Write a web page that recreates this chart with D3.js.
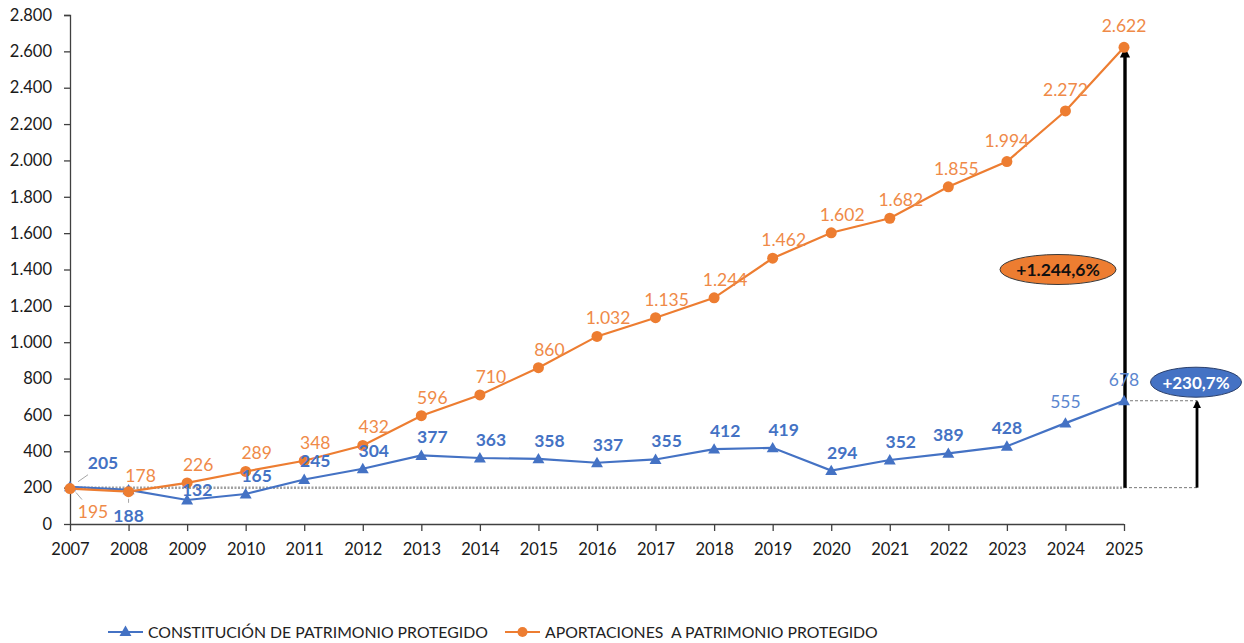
<!DOCTYPE html>
<html><head><meta charset="utf-8">
<script src="https://cdn.jsdelivr.net/npm/d3@7"></script>
<style>body{margin:0;background:#fff}svg{display:block;font-family:Lato,"Open Sans",sans-serif}</style>
</head><body><svg id="c" width="1244" height="643"></svg>
<script>
const years = [2007,2008,2009,2010,2011,2012,2013,2014,2015,2016,2017,2018,2019,2020,2021,2022,2023,2024,2025];
const constitucion = [205,188,132,165,245,304,377,363,358,337,355,412,419,294,352,389,428,555,678];
const aportaciones = [195,178,226,289,348,432,596,710,860,1032,1135,1244,1462,1602,1682,1855,1994,2272,2622];
const yTicks = [0,200,400,600,800,1000,1200,1400,1600,1800,2000,2200,2400,2600,2800];
const seriesNames = ["CONSTITUCIÓN DE PATRIMONIO PROTEGIDO","APORTACIONES  A PATRIMONIO PROTEGIDO"];
const growthLabels = ["+1.244,6%","+230,7%"];
const baseValue = 200;

const BLUE="#4472C4", ORANGE="#ED7D31";
const svg=d3.select("#c");
const x=d3.scaleLinear().domain([2007,2025]).range([70,1124]);
const y=d3.scaleLinear().domain([0,2800]).range([524,15]);
const fmt=v=>d3.format(",")(v).replace(/,/g,".");

// axes
const ya=svg.append("g").attr("transform","translate(70,0)")
  .call(d3.axisLeft(y).tickValues(yTicks).tickFormat(fmt).tickSize(6).tickPadding(12));
const xa=svg.append("g").attr("transform","translate(0,524)")
  .call(d3.axisBottom(x).tickValues(years).tickFormat(d=>d).tickSize(7).tickPadding(12));
[ya,xa].forEach(a=>{a.select(".domain").attr("stroke","#404040").attr("stroke-width",1.3);
  a.selectAll(".tick line").attr("stroke","#404040").attr("stroke-width",1.3);
  a.selectAll("text").attr("font-size",16.5).attr("fill","#1a1a1a").attr("font-family","Lato");});
xa.select(".domain").attr("d","M70,0.5H1124");
ya.select(".domain").attr("d","M-6,15.5H0.5V524");

// reference dotted line at base value
svg.append("line").attr("x1",x(2007)).attr("x2",x(2025)).attr("y1",y(baseValue)).attr("y2",y(baseValue))
  .attr("stroke","#A0A0A0").attr("stroke-width",2.5).attr("stroke-dasharray","2,1.5");
svg.append("line").attr("x1",x(2025)).attr("x2",x(2025)+73).attr("y1",y(baseValue)).attr("y2",y(baseValue))
  .attr("stroke","#555").attr("stroke-width",0.8).attr("stroke-dasharray","3,2");
svg.append("line").attr("x1",x(2025)+6).attr("x2",x(2025)+73).attr("y1",y(constitucion[18])).attr("y2",y(constitucion[18]))
  .attr("stroke","#555").attr("stroke-width",0.8).attr("stroke-dasharray","3,2");

// arrows
const defs=svg.append("defs");
defs.append("marker").attr("id","ah").attr("viewBox","0 0 10 10").attr("refX",8).attr("refY",5)
  .attr("markerWidth",3).attr("markerHeight",3.4).attr("markerUnits","strokeWidth").attr("orient","auto")
  .append("path").attr("d","M0,0L10,5L0,10Z").attr("fill","#000");
svg.append("line").attr("x1",x(2025)+1).attr("x2",x(2025)+1).attr("y1",y(baseValue)).attr("y2",y(aportaciones[18])+2)
  .attr("stroke","#000").attr("stroke-width",3.4).attr("marker-end","url(#ah)");
svg.append("line").attr("x1",x(2025)+73).attr("x2",x(2025)+73).attr("y1",y(baseValue)).attr("y2",y(constitucion[18])+1)
  .attr("stroke","#000").attr("stroke-width",2.8).attr("marker-end","url(#ah)");

// lines
const line=d3.line().x((d,i)=>x(years[i])).y(d=>y(d));
svg.append("path").datum(constitucion).attr("d",line).attr("fill","none").attr("stroke",BLUE).attr("stroke-width",2.2);
svg.append("path").datum(aportaciones).attr("d",line).attr("fill","none").attr("stroke",ORANGE).attr("stroke-width",2.2);

// markers
const tri=d3.symbol().type(d3.symbolTriangle).size(62);
svg.append("g").selectAll("path").data(constitucion).join("path")
  .attr("d",tri).attr("fill",BLUE).attr("transform",(d,i)=>`translate(${x(years[i])},${y(d)+1})`);
svg.append("g").selectAll("circle").data(aportaciones).join("circle")
  .attr("cx",(d,i)=>x(years[i])).attr("cy",d=>y(d)).attr("r",5.5).attr("fill",ORANGE);

// data labels
function off(series,i){
  let dx = i>=15 ? 0 : 11, dy=-12;
  if(series==="o"){ if(i===15) dx=8; if(i>=16) dy=-15; if(i===0){dx=23;dy=29;} if(i===1){dx=12;dy=-10;} }
  else { if(i>=17) dy=-15; if(i===0){dx=33;dy=-18;} if(i===1){dx=0;dy=32;} if(i===2){dx=10;dy=-4;} }
  return [dx,dy];
}
svg.append("g").selectAll("text").data(constitucion).join("text")
  .attr("x",(d,i)=>x(years[i])+off("b",i)[0]).attr("y",(d,i)=>y(d)+off("b",i)[1])
  .attr("text-anchor","middle").attr("font-size",17.5)
  .attr("font-weight",(d,i)=>i>=17?400:700).attr("fill",(d,i)=>i>=17?"#5B86CF":BLUE).text(fmt);
svg.append("g").selectAll("text").data(aportaciones).join("text")
  .attr("x",(d,i)=>x(years[i])+off("o",i)[0]).attr("y",(d,i)=>y(d)+off("o",i)[1])
  .attr("text-anchor","middle").attr("font-size",17.5).attr("fill","#EF8A48").text(fmt);
// leader lines
svg.append("line").attr("x1",x(2007)+8).attr("y1",y(constitucion[0])-5).attr("x2",x(2007)+18).attr("y2",y(constitucion[0])-12)
  .attr("stroke","#A6A6A6").attr("stroke-width",1);
svg.append("line").attr("x1",x(2007)+6).attr("y1",y(aportaciones[0])+4).attr("x2",x(2007)+12).attr("y2",y(aportaciones[0])+11)
  .attr("stroke","#A6A6A6").attr("stroke-width",1);
svg.append("line").attr("x1",x(2008)).attr("y1",y(constitucion[1])+9).attr("x2",x(2008)).attr("y2",y(constitucion[1])+13)
  .attr("stroke","#A6A6A6").attr("stroke-width",1);

// growth ellipses
const ex1=x(2025)-66, ey1=y(1400);
svg.append("ellipse").attr("cx",ex1).attr("cy",ey1).attr("rx",58).attr("ry",15).attr("fill",ORANGE).attr("stroke","#3a3a3a").attr("stroke-width",1);
svg.append("text").attr("x",ex1).attr("y",ey1+6.5).attr("text-anchor","middle").attr("font-size",17.5).attr("font-weight",700).attr("fill","#111").text(growthLabels[0]);
const ex2=x(2025)+72, ey2=y(780);
svg.append("ellipse").attr("cx",ex2).attr("cy",ey2).attr("rx",45.5).attr("ry",15).attr("fill",BLUE).attr("stroke","#2a3f6b").attr("stroke-width",1);
svg.append("text").attr("x",ex2).attr("y",ey2+6.5).attr("text-anchor","middle").attr("font-size",17).attr("font-weight",700).attr("fill","#fff").text(growthLabels[1]);

// legend
const lg=svg.append("g");
[[108,BLUE,"t"],[505,ORANGE,"c"]].forEach((L,k)=>{
  const g=lg.append("g").attr("transform",`translate(${L[0]},632)`);
  g.append("line").attr("x1",0).attr("x2",35).attr("stroke",L[1]).attr("stroke-width",2.2);
  if(L[2]==="t") g.append("path").attr("d",tri).attr("transform","translate(17.5,0.5)").attr("fill",L[1]);
  else g.append("circle").attr("cx",17.5).attr("r",5).attr("fill",L[1]);
  g.append("text").attr("x",40).attr("y",6).attr("font-size",15.8).attr("fill","#222").attr("xml:space","preserve").text(seriesNames[k]);
});
</script></body></html>
